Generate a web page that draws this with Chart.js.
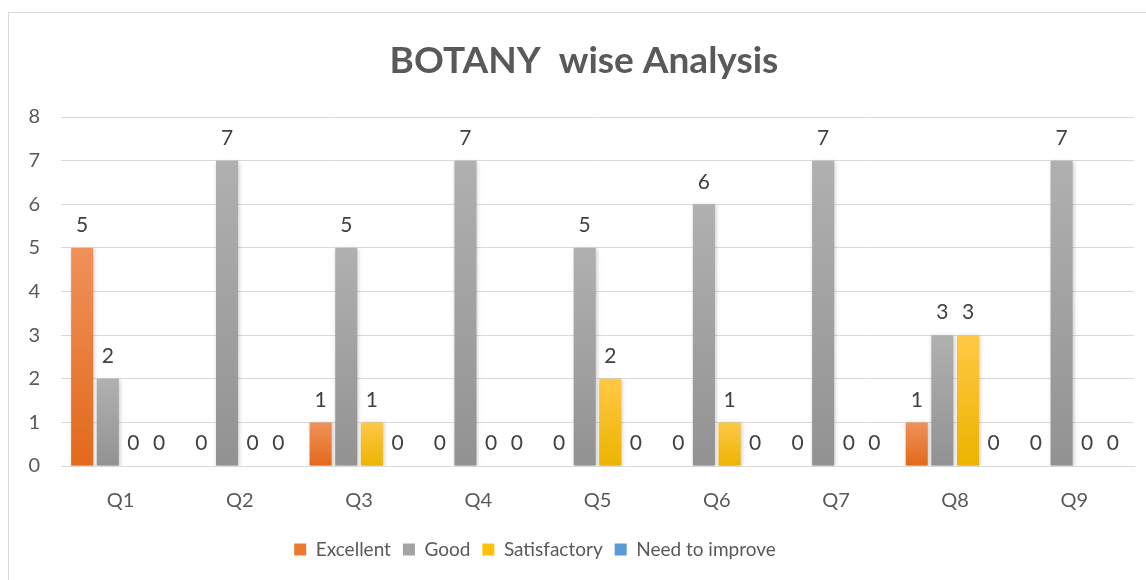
<!DOCTYPE html>
<html>
<head>
<meta charset="utf-8">
<script src="https://cdn.jsdelivr.net/npm/chart.js@4.4.0/dist/chart.umd.min.js"></script>
<style>
  html, body { margin: 0; padding: 0; background: #fff; overflow: hidden; }
  #frame { position: absolute; left: 8px; top: 12px; width: 1160px; height: 600px; border: 1px solid #d9d9d9; }
  #wrap { position: absolute; left: 0; top: 0; width: 1146px; height: 580px; }
</style>
</head>
<body>
<div id="frame"></div>
<div id="wrap"><canvas id="botanyChart"></canvas></div>
<script>
const questions = ['Q1', 'Q2', 'Q3', 'Q4', 'Q5', 'Q6', 'Q7', 'Q8', 'Q9'];
const excellent = [5, 0, 1, 0, 0, 0, 0, 1, 0];
const good = [2, 7, 5, 7, 5, 6, 7, 3, 7];
const satisfactory = [0, 0, 1, 0, 2, 1, 0, 3, 0];
const needToImprove = [0, 0, 0, 0, 0, 0, 0, 0, 0];
const yTicks = [0, 1, 2, 3, 4, 5, 6, 7, 8];

const FONT = "Lato, 'Open Sans', sans-serif";

// top / bottom colours for the Excel-like gradient on each bar
function barGradient(top, bottom) {
    return function(context) {
        const chart = context.chart;
        if (!chart.chartArea || !chart.scales.y) return bottom;
        const y = chart.scales.y;
        const yTop = y.getPixelForValue(context.raw);
        const yBot = y.getPixelForValue(0);
        if (yBot - yTop < 1) return bottom;
        const g = chart.ctx.createLinearGradient(0, yTop, 0, yBot);
        g.addColorStop(0, top);
        g.addColorStop(1, bottom);
        return g;
    };
}

// value labels above the bars (zeros included)
const valueLabels = {
    id: 'valueLabels',
    afterDatasetsDraw(chart) {
        const ctx = chart.ctx;
        ctx.save();
        ctx.font = '21px ' + FONT;
        ctx.fillStyle = '#404040';
        ctx.textAlign = 'center';
        ctx.textBaseline = 'bottom';
        chart.data.datasets.forEach((ds, i) => {
            chart.getDatasetMeta(i).data.forEach((bar, j) => {
                ctx.fillText(String(ds.data[j]), bar.x, bar.y - 12);
            });
        });
        ctx.restore();
    }
};

// soft shadow behind bars
const barShadow = {
    id: 'barShadow',
    beforeDatasetsDraw(chart) {
        const ctx = chart.ctx;
        ctx.save();
        ctx.shadowColor = 'rgba(0,0,0,0.22)';
        ctx.shadowBlur = 4;
        ctx.shadowOffsetX = 1;
        ctx.shadowOffsetY = 1;
    },
    afterDatasetsDraw(chart) {
        chart.ctx.restore();
    }
};

const chartTitle = {
    id: 'chartTitle',
    afterDraw(chart) {
        const ctx = chart.ctx;
        ctx.save();
        ctx.font = 'bold 37px ' + FONT;
        ctx.fillStyle = '#595959';
        ctx.textAlign = 'center';
        ctx.textBaseline = 'middle';
        ctx.fillText('BOTANY  wise Analysis', 584, 61);
        ctx.restore();
    }
};

// the legend in the reference sits left of the canvas centre and a bit higher
const legendShift = {
    id: 'legendShift',
    afterLayout(chart) {
        if (chart.legend) {
            chart.legend.left -= 43;
            chart.legend.right -= 43;
            chart.legend.top -= 8;
            chart.legend.bottom -= 8;
        }
    }
};

const ctxBotany = document.getElementById('botanyChart').getContext('2d');
const botanyChart = new Chart(ctxBotany, {
    type: 'bar',
    data: {
        labels: questions,
        datasets: [
            { label: 'Excellent', data: excellent, backgroundColor: barGradient('#f0915b', '#e2691a') },
            { label: 'Good', data: good, backgroundColor: barGradient('#b0b0b0', '#929292') },
            { label: 'Satisfactory', data: satisfactory, backgroundColor: barGradient('#ffc845', '#ecb400') },
            { label: 'Need to improve', data: needToImprove, backgroundColor: barGradient('#6aa7e0', '#4a89c9') }
        ]
    },
    options: {
        responsive: true,
        maintainAspectRatio: false,
        animation: false,
        categoryPercentage: 0.86,
        barPercentage: 0.86,
        layout: { padding: { top: 117, right: 12, left: 22, bottom: 3 } },
        scales: {
            x: {
                grid: { display: false, drawTicks: false },
                border: { display: true, color: '#d9d9d9', width: 1 },
                ticks: { color: '#595959', font: { family: FONT, size: 20 }, padding: 23 }
            },
            y: {
                min: 0,
                max: 8,
                afterBuildTicks: (axis) => { axis.ticks = yTicks.map(v => ({ value: v })); },
                afterFit: (axis) => { axis.width = 39; },
                grid: { color: '#d9d9d9', drawTicks: false },
                border: { display: false },
                ticks: { color: '#595959', font: { family: FONT, size: 20 }, padding: 21 }
            }
        },
        plugins: {
            title: { display: false },
            tooltip: { enabled: false },
            legend: {
                position: 'bottom',
                labels: {
                    boxWidth: 12,
                    boxHeight: 12,
                    padding: 12,
                    color: '#595959',
                    font: { family: FONT, size: 19 },
                    generateLabels(chart) {
                        const solid = ['#ec7a2e', '#a3a3a3', '#fcc10a', '#5b9bd5'];
                        return chart.data.datasets.map((ds, i) => ({
                            text: ds.label,
                            fillStyle: solid[i],
                            strokeStyle: solid[i],
                            lineWidth: 0,
                            fontColor: '#595959',
                            datasetIndex: i,
                            hidden: false
                        }));
                    }
                }
            }
        }
    },
    plugins: [barShadow, valueLabels, chartTitle, legendShift]
});
</script>
</body>
</html>
